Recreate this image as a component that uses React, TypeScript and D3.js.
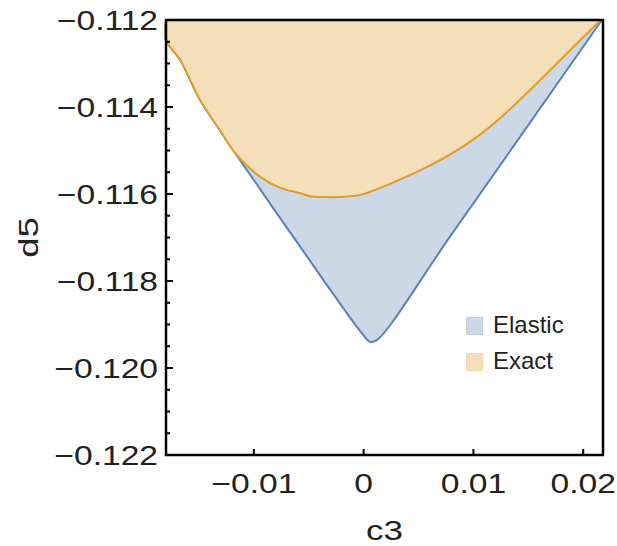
import * as d3 from "d3";

// Exact region: lower boundary, read left to right
const exactC3 = [-0.018, -0.018, -0.0167, -0.0149, -0.0131, -0.0117, -0.0094, -0.0076, -0.0058, -0.0049, -0.0035, -0.0021, -0.0003, 0.0015, 0.0033, 0.0056, 0.0079, 0.0102, 0.0125, 0.0147, 0.017, 0.0193, 0.0216];
const exactD5 = [-0.112, -0.11246, -0.11292, -0.11384, -0.11453, -0.11506, -0.11561, -0.11586, -0.11598, -0.11605, -0.11607, -0.11607, -0.11602, -0.11586, -0.11567, -0.11540, -0.11509, -0.11471, -0.11424, -0.11372, -0.11315, -0.11257, -0.112];

// Elastic region: lower boundary, read left to right
const elasticC3 = [-0.018, -0.018, -0.0167, -0.0149, -0.0131, -0.0117, -0.0062, -0.0001, 0.0006, 0.0012, 0.0079, 0.0217];
const elasticD5 = [-0.112, -0.11246, -0.11292, -0.11384, -0.11453, -0.11506, -0.11706, -0.11922, -0.1194, -0.11936, -0.11697, -0.112];

const xTicks = [-0.01, 0, 0.01, 0.02];
const xTickLabels = ["\u22120.01", "0", "0.01", "0.02"];
const yTicks = [-0.122, -0.12, -0.118, -0.116, -0.114, -0.112];
const yTickLabels = ["\u22120.122", "\u22120.120", "\u22120.118", "\u22120.116", "\u22120.114", "\u22120.112"];

const legendNames = ["Elastic", "Exact"];
const FONT = "'Liberation Sans', Arial, sans-serif";
const BLUE = "#5e81b5";
const ORANGE = "#e19c24";
const BLUE_FILL = "#cdd8e6";
const ORANGE_FILL = "#f5dfbb";

export default function App() {
  const width = 617;
  const height = 546;
  const left = 166;
  const right = 603;
  const top = 20;
  const bottom = 455;

  const x = d3.scaleLinear().domain([-0.018, 0.0218]).range([left, right]);
  const y = d3.scaleLinear().domain([-0.122, -0.112]).range([bottom, top]);

  const line = d3
    .line<[number, number]>()
    .x((d) => x(d[0]))
    .y((d) => y(d[1]))
    .curve(d3.curveCatmullRom.alpha(0.5));

  const exactPts = exactC3.map((c, i) => [c, exactD5[i]] as [number, number]);
  const elasticPts = elasticC3.map((c, i) => [c, elasticD5[i]] as [number, number]);
  const exactPath = line(exactPts) + "Z";
  const elasticPath = line(elasticPts) + "Z";

  const minorY = d3.range(0, 21).map((i) => -0.122 + i * 0.0005).filter((v, i) => i % 4 !== 0);

  const legendColors = [[BLUE_FILL, BLUE], [ORANGE_FILL, ORANGE]];

  return (
    <svg width={width} height={height} style={{ position: "absolute", left: 0, top: 0 }} fontFamily={FONT}>
      <rect width={width} height={height} fill="white" />
      <path d={elasticPath} fill={BLUE_FILL} stroke={BLUE} strokeWidth={2} strokeLinejoin="round" />
      <path d={exactPath} fill={ORANGE_FILL} stroke={ORANGE} strokeWidth={2} strokeLinejoin="round" />

      <rect x={left} y={top} width={right - left} height={bottom - top} fill="none" stroke="black" strokeWidth={2.5} />

      {yTicks.map((v) => (
        <line key={"yt" + v} x1={left} x2={left + 7} y1={y(v)} y2={y(v)} stroke="black" strokeWidth={2} />
      ))}
      {minorY.map((v) => (
        <line key={"ym" + v} x1={left} x2={left + 4} y1={y(v)} y2={y(v)} stroke="black" strokeWidth={2} />
      ))}
      {xTicks.map((v) => (
        <line key={"xt" + v} x1={x(v)} x2={x(v)} y1={bottom} y2={bottom - 6} stroke="black" strokeWidth={2} />
      ))}

      {yTicks.map((v, i) => (
        <text key={"yl" + v} transform={`translate(158,${y(v) + 10}) scale(1.2,1)`} textAnchor="end" fontSize={28} fill="#222">
          {yTickLabels[i]}
        </text>
      ))}
      {xTicks.map((v, i) => (
        <text key={"xl" + v} transform={`translate(${x(v)},493) scale(1.2,1)`} textAnchor="middle" fontSize={28} fill="#222">
          {xTickLabels[i]}
        </text>
      ))}

      <text transform={`translate(${(left + right) / 2},540) scale(1.25,1)`} textAnchor="middle" fontSize={28} fill="#222">
        c3
      </text>
      <text transform={`translate(38,${(top + bottom) / 2}) rotate(-90) scale(1.3,1)`} textAnchor="middle" fontSize={28} fill="#222">
        d5
      </text>

      {legendNames.map((name, i) => (
        <g key={name} transform={`translate(466,${317 + i * 36})`}>
          <rect x={0.5} y={0.5} width={16} height={17} fill={legendColors[i][0]} stroke={legendColors[i][1]} strokeOpacity={0.25} />
          <text x={27} y={16} fontSize={24} fill="#222">
            {name}
          </text>
        </g>
      ))}
    </svg>
  );
}
